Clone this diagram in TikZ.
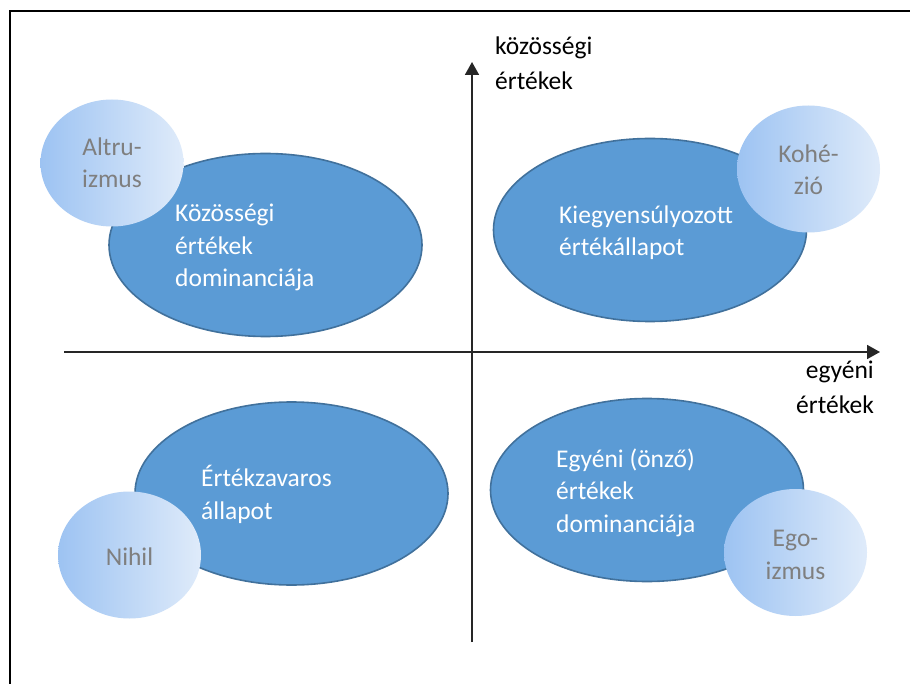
\documentclass[tikz,border=0pt]{standalone}
\usepackage{fontspec}
\setmainfont{Carlito}
\usepackage{xcolor}
\usepackage{tikz}
\usetikzlibrary{shapes.geometric, arrows.meta}
\definecolor{ellfill}{RGB}{91,155,213}
\definecolor{elldraw}{RGB}{65,113,156}
\definecolor{bubleft}{RGB}{157,195,242}
\definecolor{bubright}{RGB}{223,235,250}
\definecolor{bubtext}{RGB}{127,127,127}
\newcommand{\labelfont}{\fontsize{25.5}{32.5}\selectfont}
\tikzstyle{state} = [ellipse, draw=elldraw, line width=1.6pt, fill=ellfill,
    minimum width=313pt, minimum height=183pt, inner sep=0pt]
\tikzstyle{bubble} = [ellipse, left color=bubleft, right color=bubright,
    minimum width=143pt, minimum height=127pt, inner sep=0pt]
\tikzstyle{statetext} = [text=white, font=\labelfont, align=left, anchor=base west, inner sep=0pt]
\tikzstyle{bubbletext} = [text=bubtext, font=\labelfont, align=center, anchor=base, inner sep=0pt]
\tikzstyle{axislabel} = [text=black, font=\labelfont, inner sep=0pt]
\tikzstyle{arrow} = [-{Triangle[length=13pt, width=14pt]}, line width=1.8pt, draw=black!85]

\begin{document}
\begin{tikzpicture}[x=1pt, y=-1pt]
    \useasboundingbox (0,0) rectangle (910,684);
    \fill[white] (0,0) rectangle (910,684);
    \draw[line width=2pt] (9.5,684) -- (9.5,11.5) -- (910,11.5);

    % axes
    \coordinate (xstart) at (64,352);
    \coordinate (xend) at (880,352);
    \coordinate (ystart) at (472,642);
    \coordinate (yend) at (472,62);
    \draw[arrow] (xstart) -- (xend);
    \draw[arrow] (ystart) -- (yend);
    \node[axislabel, anchor=base west, align=left, font=\fontsize{25.5}{35}\selectfont] (ylab) at (495,90)
        {közösségi\\értékek};
    \node[axislabel, anchor=base east, align=right, font=\fontsize{25.5}{35}\selectfont] (xlab) at (874,413)
        {egyéni\\értékek};

    % quadrants
    \node[state] (kozossegi) at (265.5,245) {};
    \node[state] (kiegyensulyozott) at (650,230) {};
    \node[state] (zavaros) at (291.5,493.5) {};
    \node[state] (egyeni) at (647,490) {};
    \node[statetext] (kozossegitxt) at (175,287)
        {Közösségi\\értékek\\dominanciája};
    \node[statetext] (kiegyensulyozotttxt) at (559,256)
        {Kiegyensúlyozott\\értékállapot};
    \node[statetext] (zavarostxt) at (201,519)
        {Értékzavaros\\állapot};
    \node[statetext] (egyenitxt) at (556,532)
        {Egyéni (önző)\\értékek\\dominanciája};

    % extremes
    \node[bubble] (altruizmus) at (112,163) {};
    \node[bubble] (kohezio) at (808.5,169) {};
    \node[bubble] (nihil) at (129.5,555) {};
    \node[bubble] (egoizmus) at (795.5,552.5) {};
    \node[bubbletext] (altruizmustxt) at (112,188) {Altru-\\izmus};
    \node[bubbletext] (koheziotxt) at (808.5,195) {Kohé-\\zió};
    \node[bubbletext] (nihiltxt) at (129.5,565) {Nihil};
    \node[bubbletext] (egoizmustxt) at (795.5,579) {Ego-\\izmus};
\end{tikzpicture}
\end{document}
